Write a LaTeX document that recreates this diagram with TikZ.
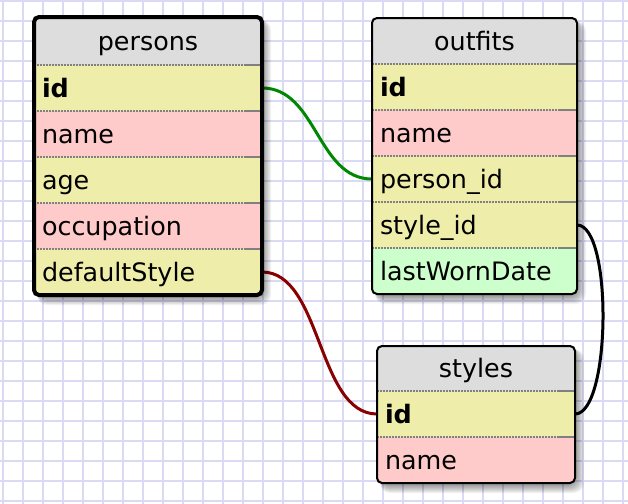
\documentclass[tikz,border=0pt]{standalone}
\usepackage{fontspec}
\setmainfont{DejaVu Sans}
\usepackage{tikz}
\usetikzlibrary{positioning, backgrounds}

\definecolor{gridline}{RGB}{218,218,244}
\definecolor{headgray}{RGB}{221,221,221}
\definecolor{keyyellow}{RGB}{238,238,170}
\definecolor{fieldpink}{RGB}{255,202,202}
\definecolor{fieldgreen}{RGB}{204,255,204}
\definecolor{linkgreen}{RGB}{0,136,0}
\definecolor{linkred}{RGB}{136,0,0}

\newcommand{\tablefont}{\fontsize{12.7}{15}\selectfont}
% soft shadow below a table: corners (#1,#2) and (#3,#4)
\newcommand{\tableshadow}[4]{%
  \foreach \k in {0,...,8}
    \fill[black, opacity=0.05, rounded corners=5pt] (#1+3,#2+3) rectangle (#3+1+\k,#4+2+\k);}

\begin{document}
\begin{tikzpicture}[
    x=0.5pt, y=-0.5pt,
    tableborder/.style={rounded corners=2.5pt, draw=black, line width=1pt},
    head/.style={rectangle, anchor=north west, inner xsep=4pt, inner ysep=0pt, outer sep=0pt,
      minimum height=23pt, text height=11.5pt, text depth=2.5pt, align=center, font=\tablefont},
    field/.style={head, align=left},
    keyfield/.style={field, fill=keyyellow, font=\tablefont\bfseries},
    rowsep/.style={draw=gray, line width=0.75pt, dash pattern=on 0.75pt off 0.75pt},
    rowsepend/.style={draw=gray, line width=0.75pt},
    link/.style={line width=1.5pt},
  ]
  \useasboundingbox (0,0) rectangle (628,504);

  % background grid
  \begin{pgfonlayer}{background}
    \fill[white] (0,0) rectangle (628,504);
    \foreach \x in {3,23,...,623}
      \draw[gridline, line width=0.9pt] (\x,0) -- (\x,504);
    \foreach \y in {1,21,...,501}
      \draw[gridline, line width=0.9pt] (0,\y) -- (628,\y);
  \end{pgfonlayer}

  % persons
  \tableshadow{34}{17}{262}{295}
  \begin{scope}
    \clip[rounded corners=2.5pt] (34,17) rectangle (262,295);
    \node[head, fill=headgray, text width=106pt, minimum height=24pt] (persons) at (34,17) {persons};
    \node[keyfield, text width=106pt] (persons-id) at (34,65) {id};
    \foreach \n/\t/\c [count=\i] in {name/name/fieldpink, age/age/keyyellow,
        occupation/occupation/fieldpink, defaultStyle/defaultStyle/keyyellow}
      \node[field, fill=\c, text width=106pt] (persons-\n) at (34,65+46*\i) {\t};
  \end{scope}
  \foreach \n in {id,name,age,occupation,defaultStyle}{
    \draw[rowsep] (persons-\n.north west) -- (persons-\n.north east);
    \draw[rowsepend] ([xshift=-9pt]persons-\n.north east) -- (persons-\n.north east);
  }
  \draw[tableborder, line width=2pt] (34,17) rectangle (262,295);

  % outfits
  \tableshadow{372}{18}{577}{294}
  \begin{scope}
    \clip[rounded corners=2.5pt] (372,18) rectangle (577,294);
    \node[head, fill=headgray, text width=94.5pt] (outfits) at (372,18) {outfits};
    \node[keyfield, text width=94.5pt] (outfits-id) at (372,64) {id};
    \foreach \n/\t/\c [count=\i] in {name/name/fieldpink, personid/person\_id/keyyellow,
        styleid/style\_id/keyyellow, lastWornDate/lastWornDate/fieldgreen}
      \node[field, fill=\c, text width=94.5pt] (outfits-\n) at (372,64+46*\i) {\t};
  \end{scope}
  \foreach \n in {id,name,personid,styleid,lastWornDate}{
    \draw[rowsep] (outfits-\n.north west) -- (outfits-\n.north east);
    \draw[rowsepend] ([xshift=-9pt]outfits-\n.north east) -- (outfits-\n.north east);
  }
  \draw[tableborder] (372,18) rectangle (577,294);

  % styles
  \tableshadow{377}{346}{575}{483}
  \begin{scope}
    \clip[rounded corners=2.5pt] (377,346) rectangle (575,483);
    \node[head, fill=headgray, text width=91pt, minimum height=22.5pt] (styles) at (377,346) {styles};
    \node[keyfield, text width=91pt] (styles-id) at (377,391) {id};
    \node[field, fill=fieldpink, text width=91pt] (styles-name) at (377,437) {name};
  \end{scope}
  \foreach \n in {id,name}{
    \draw[rowsep] (styles-\n.north west) -- (styles-\n.north east);
    \draw[rowsepend] ([xshift=-9pt]styles-\n.north east) -- (styles-\n.north east);
  }
  \draw[tableborder] (377,346) rectangle (575,483);

  % foreign keys
  \begin{pgfonlayer}{background}
    \draw[link, linkgreen] (persons-id.east) .. controls +(55,0) and +(-55,0) .. (outfits-personid.west);
    \draw[link, linkred] (persons-defaultStyle.east) .. controls +(60,0) and +(-60,0) .. (styles-id.west);
    \draw[link, black] (outfits-styleid.east) .. controls +(36,0) and +(36,0) .. (styles-id.east);
  \end{pgfonlayer}
\end{tikzpicture}
\end{document}
